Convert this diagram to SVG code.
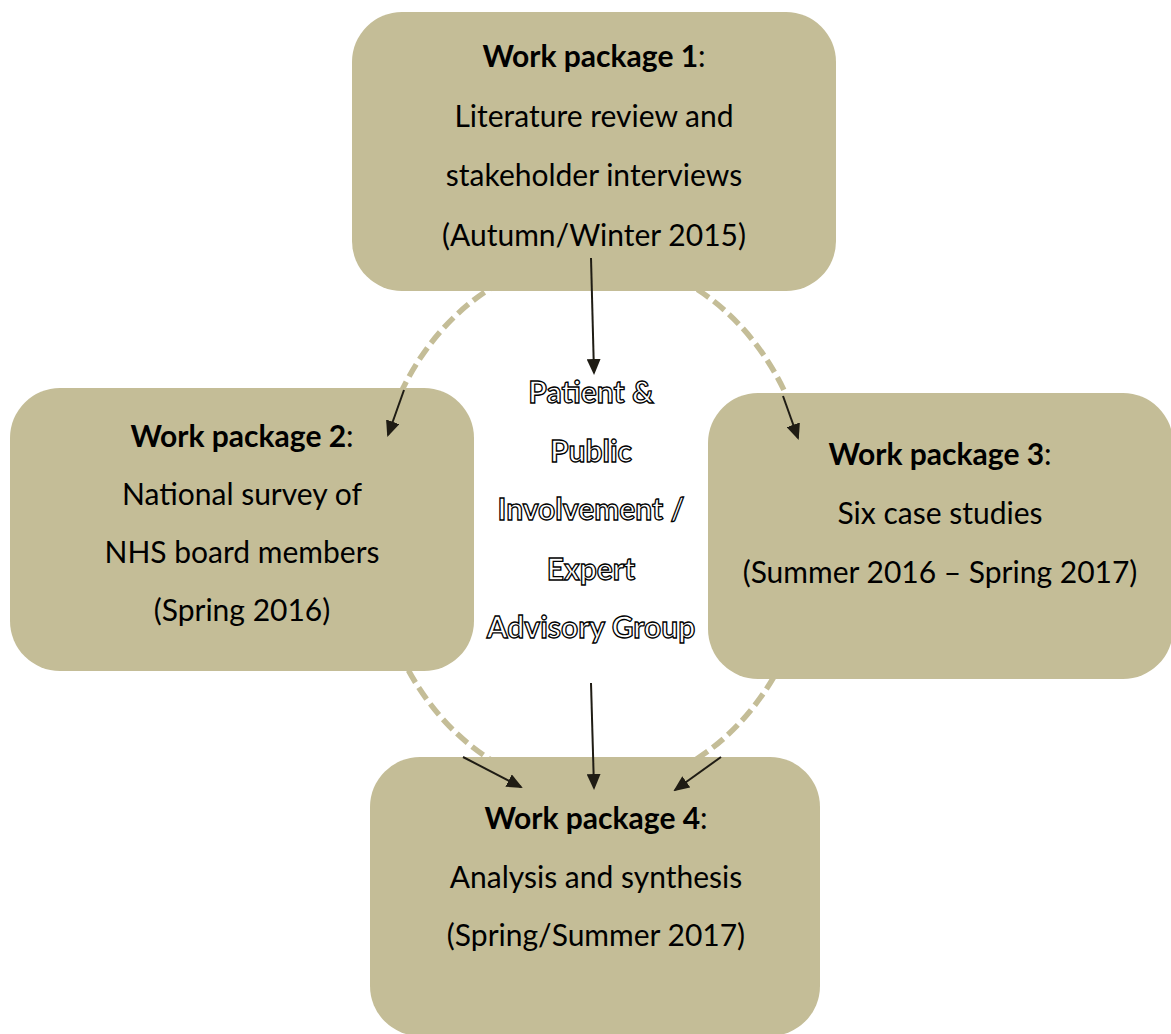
<svg xmlns="http://www.w3.org/2000/svg" width="1171" height="1034" viewBox="0 0 1171 1034">
<style>
.box{fill:#c4bd97}
.t{font-family:Lato,"Open Sans","Liberation Sans",sans-serif;font-size:30px;fill:#000;text-anchor:middle}
.b{font-weight:bold}
.o{font-family:Lato,"Open Sans","Liberation Sans",sans-serif;font-size:30px;font-weight:bold;fill:#fff;stroke:#000;stroke-width:1.3;text-anchor:middle}
.ar{stroke:#1f1c14;stroke-width:2;fill:none;marker-end:url(#ah)}
</style>
<defs>
<marker id="ah" markerWidth="16" markerHeight="14" refX="14" refY="7" orient="auto" markerUnits="userSpaceOnUse">
<path d="M0,0 L16,7 L0,14 Z" fill="#1f1c14"/>
</marker>
</defs>
<rect width="1171" height="1034" fill="#fff"/>
<g id="cycle">
<ellipse cx="593" cy="524" rx="221" ry="266" fill="none" stroke="#c4bd97" stroke-width="5.5" stroke-dasharray="14 6"/>
</g>
<g id="wp1">
<rect class="box" x="352" y="12" width="484" height="279" rx="50"/>
<text class="t" x="594" y="67"><tspan class="b">Work package 1</tspan>:</text>
<text class="t" x="594" y="127">Literature review and</text>
<text class="t" x="594" y="186">stakeholder interviews</text>
<text class="t" x="594" y="246">(Autumn/Winter 2015)</text>
</g>
<g id="wp2">
<rect class="box" x="10" y="388" width="464" height="283" rx="50"/>
<text class="t" x="242" y="447"><tspan class="b">Work package 2</tspan>:</text>
<text class="t" x="242" y="505">National survey of</text>
<text class="t" x="242" y="563">NHS board members</text>
<text class="t" x="242" y="621">(Spring 2016)</text>
</g>
<g id="wp3">
<rect class="box" x="708" y="393" width="465" height="286" rx="50"/>
<text class="t" x="940" y="465"><tspan class="b">Work package 3</tspan>:</text>
<text class="t" x="940" y="524">Six case studies</text>
<text class="t" x="940" y="583">(Summer 2016 – Spring 2017)</text>
</g>
<g id="wp4">
<rect class="box" x="370" y="757" width="450" height="279" rx="50"/>
<text class="t" x="596" y="829"><tspan class="b">Work package 4</tspan>:</text>
<text class="t" x="596" y="888">Analysis and synthesis</text>
<text class="t" x="596" y="946">(Spring/Summer 2017)</text>
</g>
<g id="ppi">
<text class="o" x="591" y="403">Patient &amp;</text>
<text class="o" x="591" y="462">Public</text>
<text class="o" x="591" y="520">Involvement /</text>
<text class="o" x="591" y="580">Expert</text>
<text class="o" x="591" y="638">Advisory Group</text>
</g>
<g id="connectors">
<line class="ar" x1="591" y1="258" x2="594" y2="373"/>
<line class="ar" x1="404" y1="390" x2="388" y2="435"/>
<line class="ar" x1="783" y1="396" x2="798" y2="438"/>
<line class="ar" x1="463" y1="757" x2="521" y2="787"/>
<line class="ar" x1="591" y1="683" x2="594" y2="788"/>
<line class="ar" x1="721" y1="757" x2="675" y2="790"/>
</g>
</svg>
